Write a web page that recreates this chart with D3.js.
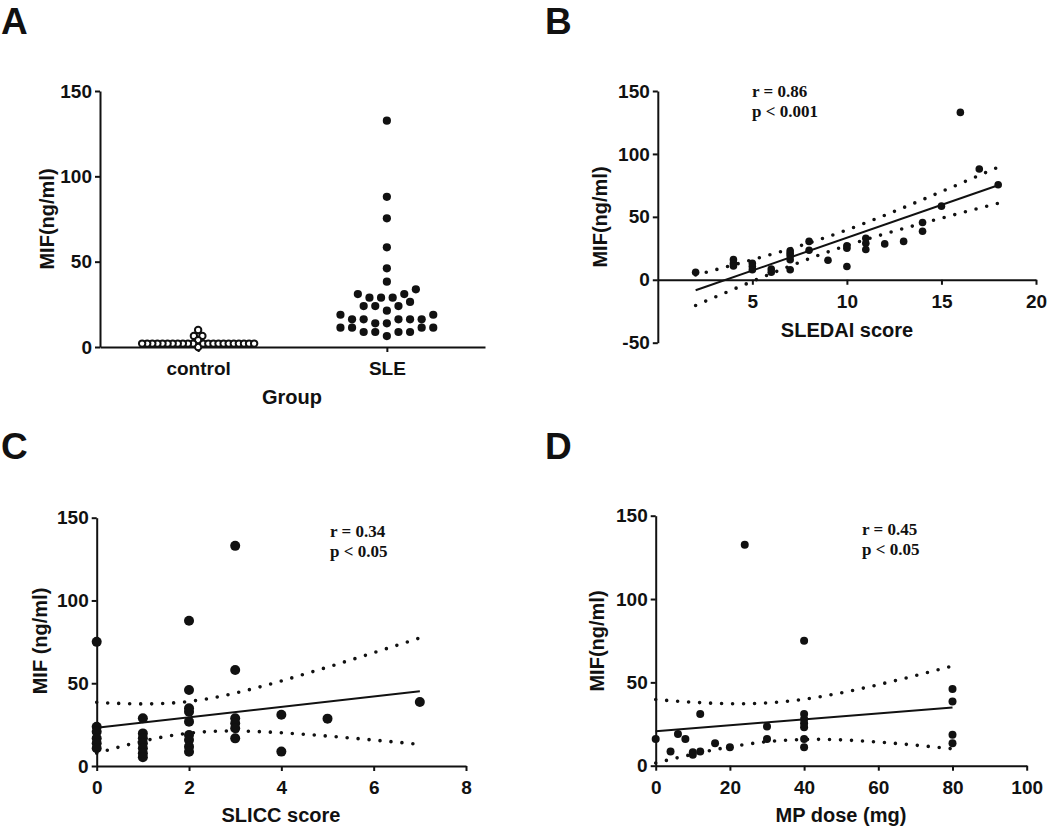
<!DOCTYPE html>
<html lang="en">
<head>
<meta charset="utf-8">
<script src="https://cdn.jsdelivr.net/npm/d3@7"></script>
<style>
  body { margin: 0; background: #fff; }
  svg text { fill: #111; }
  .axis text { font-family: "Liberation Sans", Arial, sans-serif; font-weight: bold; font-size: 19px; }
  .axis path, .axis line { stroke: #111; stroke-width: 2; }
  .title { font-family: "Liberation Sans", Arial, sans-serif; font-weight: bold; font-size: 20px; }
  .letter { font-family: "Liberation Sans", Arial, sans-serif; font-weight: bold; font-size: 37px; }
  .stat { font-family: "Liberation Serif", "Times New Roman", serif; font-weight: bold; font-size: 17px; }
</style>
</head>
<body>
<script>
// ---- data ----
var groups = ["control", "SLE"];
var controlMIF = [10, 6.5, 6.5, 4, 0, 2, 2, 2, 2, 2, 2, 2, 2, 2, 2, 2, 2, 2, 2, 2, 2, 2, 2, 2, 2, 2, 2];
var sleMIF = [132.6, 88, 75.4, 58.4, 46.1, 38.3,
  33.8, 31, 28.9, 28.9, 28.9, 31,
  26.4, 24, 21.3, 24, 24,
  18.9, 16.2, 16.2, 13.9, 13.9, 16.2, 16.2, 16.2, 18.9,
  11.3, 11.3, 8.8, 8.8, 6.4, 8.8, 8.8, 11.3, 11.3];

var sledaiScore = [2, 4, 4, 4, 5, 5, 5, 6, 6, 7, 7, 7, 7, 7, 8, 8, 9, 10, 10, 10, 11, 11, 11, 12, 13, 14, 14, 15, 16, 17, 18];
var sledaiMIF   = [6, 16, 13, 11, 13, 10.5, 8, 8.5, 6, 23, 21, 19, 16, 8, 30.5, 23.5, 15.5, 27, 25, 10.5, 33, 29, 24, 28.5, 30.5, 45.5, 38.5, 58.5, 133, 88, 75.5];

var sliccScore = [0, 0, 0, 0, 0, 0, 1, 1, 1, 1, 1, 1, 1, 2, 2, 2, 2, 2, 2, 2, 2, 2, 3, 3, 3, 3, 3, 3, 4, 4, 5, 7];
var sliccMIF   = [75, 23.7, 20.7, 16.7, 13.7, 10.7, 28.8, 19.7, 16.7, 13.7, 10.7, 7.7, 5.3, 87.8, 45.9, 34.9, 32.8, 26.8, 18.7, 15.7, 11.7, 8.6, 133, 58, 28.8, 25.8, 22.8, 16.7, 31, 8.7, 28.6, 38.7];

var mpDose = [0, 4, 6, 8, 10, 10, 12, 12, 16, 20, 24, 30, 30, 40, 40, 40, 40, 40, 40, 40, 80, 80, 80, 80];
var mpMIF  = [16, 8.5, 19, 16, 8, 6.5, 31, 8.5, 13.5, 11, 132.5, 23.5, 16, 75, 31, 28, 25.5, 23, 16, 11, 46, 38.5, 18.5, 13.5];

var statsB = ["r = 0.86", "p < 0.001"];
var statsC = ["r = 0.34", "p < 0.05"];
var statsD = ["r = 0.45", "p < 0.05"];

var svg = d3.select("body").append("svg")
  .attr("width", 1050).attr("height", 826);

var plain = function(d) { return String(d); }; // keep hyphen minus as in the figure

// panel letters
[["A", 1, 34], ["B", 545, 34], ["C", 1, 459], ["D", 545, 459]].forEach(function(l) {
  svg.append("text").attr("class", "letter").attr("x", l[1]).attr("y", l[2]).text(l[0]);
});

function yTitle(x, y, txt) {
  svg.append("text").attr("class", "title")
    .attr("transform", "translate(" + x + "," + y + ") rotate(-90)")
    .attr("text-anchor", "middle").attr("dominant-baseline", "central")
    .text(txt);
}
function xTitle(x, y, txt) {
  svg.append("text").attr("class", "title")
    .attr("x", x).attr("y", y).attr("text-anchor", "middle")
    .attr("dominant-baseline", "central").text(txt);
}
function stats(x, y, lines) {
  lines.forEach(function(s, i) {
    svg.append("text").attr("class", "stat").attr("x", x).attr("y", y + i * 20).text(s);
  });
}

// t critical value (two sided 95%), Cornish-Fisher approx
function tCrit(df) {
  var z = 1.959964;
  return z + (z*z*z + z) / (4*df) + (5*Math.pow(z,5) + 16*z*z*z + 3*z) / (96*df*df);
}

// linear fit with 95% CI of the mean line
function fitLine(g, xs, ys, x, y) {
  var n = xs.length, mx = d3.mean(xs), my = d3.mean(ys);
  var sxx = d3.sum(xs, function(v) { return (v - mx) * (v - mx); });
  var sxy = d3.sum(xs, function(v, i) { return (v - mx) * (ys[i] - my); });
  var b = sxy / sxx, a = my - b * mx;
  var sse = d3.sum(xs, function(v, i) { var r = ys[i] - (a + b * v); return r * r; });
  var s = Math.sqrt(sse / (n - 2)), t = tCrit(n - 2);
  var ext = d3.extent(xs);
  var grid = d3.range(ext[0], ext[1] + 1e-9, (ext[1] - ext[0]) / 100);
  function hw(v) { return t * s * Math.sqrt(1 / n + (v - mx) * (v - mx) / sxx); }
  var line = d3.line().x(function(v) { return x(v[0]); }).y(function(v) { return y(v[1]); });
  [1, -1].forEach(function(sign) {
    g.append("path")
      .attr("d", line(grid.map(function(v) { return [v, a + b * v + sign * hw(v)]; })))
      .attr("fill", "none").attr("stroke", "#111").attr("stroke-width", 3.6)
      .attr("stroke-linecap", "round").attr("stroke-dasharray", "0,11");
  });
  g.append("path")
    .attr("d", line([[ext[0], a + b * ext[0]], [ext[1], a + b * ext[1]]]))
    .attr("fill", "none").attr("stroke", "#111").attr("stroke-width", 2);
}

function dots(g, xs, ys, x, y, r) {
  g.selectAll(null).data(xs).enter().append("circle")
    .attr("cx", function(d) { return x(d); })
    .attr("cy", function(d, i) { return y(ys[i]); })
    .attr("r", r).attr("fill", "#111");
}

// beeswarm offsets: bin the values, lowest in bin sits at the centre
function swarm(values, binStart, binW, maxSpacing, maxWidth) {
  var off = new Array(values.length);
  var bins = d3.group(values.map(function(v, i) { return i; }),
    function(i) { return Math.floor((values[i] - binStart) / binW); });
  bins.forEach(function(idx) {
    idx.sort(function(p, q) { return values[p] - values[q]; });
    var n = idx.length;
    var sp = n > 1 ? Math.min(maxSpacing, maxWidth / (n - 1)) : 0;
    var slots = d3.range(n).map(function(k) { return (k - (n - 1) / 2) * sp; });
    slots.sort(function(p, q) { return Math.abs(p) - Math.abs(q) || p - q; });
    idx.forEach(function(i, k) { off[i] = slots[k]; });
  });
  return off;
}

// ---------- A ----------
(function() {
  var x = d3.scalePoint().domain(groups).range([100, 485]).padding(0.52);
  var y = d3.scaleLinear().domain([0, 150]).range([347, 91]);
  var g = svg.append("g");
  g.append("g").attr("class", "axis").attr("transform", "translate(0,347)")
    .call(d3.axisBottom(x).tickSize(5).tickSizeOuter(0).tickPadding(10));
  g.append("g").attr("class", "axis").attr("transform", "translate(100,0)")
    .call(d3.axisLeft(y).tickValues([0, 50, 100, 150]).tickFormat(plain).tickSize(5).tickSizeOuter(0).tickPadding(3));
  var offC = swarm(controlMIF, 0, 3, 8.5, 112);
  g.selectAll(null).data(controlMIF).enter().append("circle")
    .attr("cx", function(d, i) { return x("control") + offC[i]; })
    .attr("cy", function(d) { return y(d); })
    .attr("r", 3.2).attr("fill", "#fff").attr("stroke", "#111").attr("stroke-width", 2);
  var offS = swarm(sleMIF, 5, 7.5, 11.6, 200);
  g.selectAll(null).data(sleMIF).enter().append("circle")
    .attr("cx", function(d, i) { return x("SLE") + offS[i]; })
    .attr("cy", function(d) { return y(d); })
    .attr("r", 4.1).attr("fill", "#111");
  yTitle(47, 219, "MIF(ng/ml)");
  xTitle(292, 397, "Group");
})();

// ---------- B ----------
(function() {
  var x = d3.scaleLinear().domain([0, 20]).range([657.8, 1036]);
  var y = d3.scaleLinear().domain([-50, 150]).range([342.7, 91]);
  var g = svg.append("g");
  g.append("g").attr("class", "axis").attr("transform", "translate(0," + y(0) + ")")
    .call(d3.axisBottom(x).tickValues([5, 10, 15, 20]).tickFormat(plain).tickSize(5).tickSizeOuter(0).tickPadding(10));
  g.append("g").attr("class", "axis").attr("transform", "translate(657.8,0)")
    .call(d3.axisLeft(y).tickValues([-50, 0, 50, 100, 150]).tickFormat(plain).tickSize(5).tickSizeOuter(0).tickPadding(3));
  fitLine(g, sledaiScore, sledaiMIF, x, y);
  dots(g, sledaiScore, sledaiMIF, x, y, 3.8);
  yTitle(600, 217, "MIF(ng/ml)");
  xTitle(847, 330, "SLEDAI score");
  stats(752, 97, statsB);
})();

// ---------- C ----------
(function() {
  var x = d3.scaleLinear().domain([0, 8]).range([96.7, 466]);
  var y = d3.scaleLinear().domain([0, 150]).range([766, 517.7]);
  var g = svg.append("g");
  g.append("g").attr("class", "axis").attr("transform", "translate(0,766)")
    .call(d3.axisBottom(x).tickValues([0, 2, 4, 6, 8]).tickFormat(plain).tickSize(5).tickSizeOuter(0).tickPadding(10));
  g.append("g").attr("class", "axis").attr("transform", "translate(96.7,0)")
    .call(d3.axisLeft(y).tickValues([0, 50, 100, 150]).tickFormat(plain).tickSize(5).tickSizeOuter(0).tickPadding(3));
  fitLine(g, sliccScore, sliccMIF, x, y);
  dots(g, sliccScore, sliccMIF, x, y, 5);
  yTitle(40, 641, "MIF (ng/ml)");
  xTitle(281, 815, "SLICC score");
  stats(330, 537, statsC);
})();

// ---------- D ----------
(function() {
  var x = d3.scaleLinear().domain([0, 100]).range([655.7, 1026.7]);
  var y = d3.scaleLinear().domain([0, 150]).range([765.7, 515.7]);
  var g = svg.append("g");
  g.append("g").attr("class", "axis").attr("transform", "translate(0,765.7)")
    .call(d3.axisBottom(x).tickValues([0, 20, 40, 60, 80, 100]).tickFormat(plain).tickSize(5).tickSizeOuter(0).tickPadding(10));
  g.append("g").attr("class", "axis").attr("transform", "translate(655.7,0)")
    .call(d3.axisLeft(y).tickValues([0, 50, 100, 150]).tickFormat(plain).tickSize(5).tickSizeOuter(0).tickPadding(3));
  fitLine(g, mpDose, mpMIF, x, y);
  dots(g, mpDose, mpMIF, x, y, 4);
  yTitle(597, 641, "MIF(ng/ml)");
  xTitle(841, 815, "MP dose (mg)");
  stats(862, 535, statsD);
})();
</script>
</body>
</html>
